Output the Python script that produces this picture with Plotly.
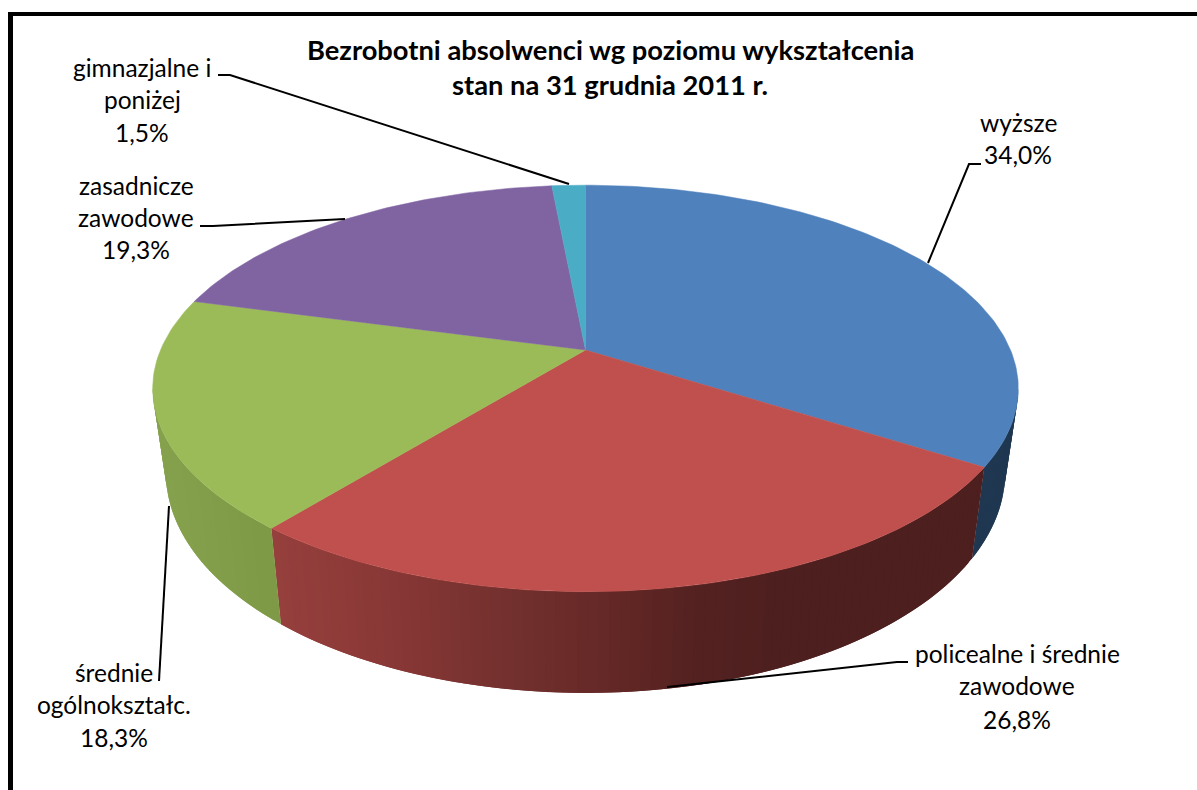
import numpy as np
import plotly.graph_objects as go

categories = ["wyższe", "policealne i średnie zawodowe", "średnie ogólnokształc.",
              "zasadnicze zawodowe", "gimnazjalne i poniżej"]
values = [34.0, 26.8, 18.3, 19.3, 1.5]
title_lines = ["Bezrobotni absolwenci wg poziomu wykształcenia", "stan na 31 grudnia 2011 r."]

top_colors = ["#4f81bd", "#c0504d", "#9bbb59", "#8064a2", "#4bacc6"]
# side-wall shading: (screen x, rgb) stops per slice
wall_stops = {
    0: [(970, (31, 55, 80)), (1020, (31, 55, 80))],
    1: [(273, (150, 64, 61)), (400, (135, 55, 53)), (500, (116, 49, 47)),
        (600, (102, 41, 39)), (700, (83, 33, 32)), (790, (77, 31, 31)), (990, (77, 31, 31))],
    2: [(153, (134, 162, 78)), (280, (125, 153, 70))],
}

# projection of the disc onto the screen (pixels)
CX, CY = 585.5, 350.0
K = 0.189
FX, GY = 425.0, 196.0
FX_B, GY_B, CY_B = 412.0, 212.0, 431.5
FONT = "Lato"
LABEL_SIZE = 24.5
TITLE_SIZE = 27.3


def top_pt(t):
    w = 1 + K * np.cos(t)
    return CX + FX * np.sin(t) / w, CY - GY * np.cos(t) / w


def bot_pt(t):
    w = 1 + K * np.cos(t)
    return CX + FX_B * np.sin(t) / w, CY_B - GY_B * np.cos(t) / w


def wall_color(i, x):
    st = wall_stops[i]
    xs = [s[0] for s in st]
    rgb = [np.interp(x, xs, [s[1][c] for s in st]) for c in range(3)]
    return "rgb(%d,%d,%d)" % tuple(int(round(c)) for c in rgb)


fig = go.Figure()
edges = np.concatenate([[0], np.cumsum(values)]) / sum(values) * 2 * np.pi
t_right = np.arccos(-K)
t_left = 2 * np.pi - t_right

# side walls: each strip overlaps the next, painted in order, so no seams show
for i in range(5):
    a, b = max(edges[i], t_right), min(edges[i + 1], t_left)
    if b <= a:
        continue
    n = max(2, int(np.degrees(b - a) / 1.2) + 1)
    ts = np.linspace(a, b, n + 1)
    for j in range(n):
        t0, t1 = ts[j], ts[min(j + 2, n)]
        mid = (top_pt(ts[j])[0] + top_pt(ts[j + 1])[0] + bot_pt(ts[j])[0] + bot_pt(ts[j + 1])[0]) / 4
        col = wall_color(i, mid)
        tm = np.linspace(t0, t1, 4)
        xt, yt = top_pt(tm)
        xb, yb = bot_pt(tm[::-1])
        fig.add_trace(go.Scatter(x=np.r_[xt, xb, xt[0]], y=np.r_[yt, yb, yt[0]], mode="lines",
                                 fill="toself", fillcolor=col, line=dict(color=col, width=0),
                                 hoverinfo="skip", showlegend=False))

# top face
for i in range(5):
    ts = np.linspace(edges[i], edges[i + 1], max(3, int(np.degrees(edges[i + 1] - edges[i]))) + 1)
    xs, ys = top_pt(ts)
    fig.add_trace(go.Scatter(x=np.r_[CX, xs, CX], y=np.r_[CY, ys, CY], mode="lines", fill="toself",
                             fillcolor=top_colors[i], line=dict(color=top_colors[i], width=0.5),
                             name=categories[i], hoverinfo="name", showlegend=False))


def pct(v):
    return f"{v:.1f}%".replace(".", ",")


annotations = []


def add_lines(lines, cx, ys, size=LABEL_SIZE, bold=False):
    for txt, y in zip(lines, ys):
        annotations.append(dict(x=cx, y=y, xref="x", yref="y", text=f"<b>{txt}</b>" if bold else txt,
                                showarrow=False, xanchor="center", yanchor="middle",
                                font=dict(family=FONT, size=size, color="#000000")))


add_lines(title_lines, 610, [49.5, 84.5], TITLE_SIZE, True)
add_lines(["wyższe", pct(values[0])], 1018, [122.5, 154.5])
add_lines(["policealne i średnie", "zawodowe", pct(values[1])], 1017, [653.5, 685.5, 719.5])
add_lines(["średnie", "ogólnokształc.", pct(values[2])], 114, [672.5, 704.5, 737.5])
add_lines(["zasadnicze", "zawodowe", pct(values[3])], 136, [185.5, 217.5, 249.5])
add_lines(["gimnazjalne i", "poniżej", pct(values[4])], 142, [67.5, 99.5, 132.5])

leaders = [
    "M218,75 L230,75 L569,184",
    "M200,226 L213,226 L345,219",
    "M159,681 L169,506",
    "M981,164 L969,164 L928,263",
    "M908,662 L897,662 L667,687",
]
shapes = [dict(type="path", path=p, xref="x", yref="y", line=dict(color="#000000", width=2),
               fillcolor="rgba(0,0,0,0)") for p in leaders]
shapes += [
    dict(type="rect", x0=8, x1=1197, y0=12, y1=16, xref="x", yref="y", fillcolor="#000000", line_width=0),
    dict(type="rect", x0=8, x1=13, y0=12, y1=790, xref="x", yref="y", fillcolor="#000000", line_width=0),
]

fig.update_layout(
    width=1197, height=790, margin=dict(l=0, r=0, t=0, b=0), autosize=False,
    paper_bgcolor="#ffffff", plot_bgcolor="#ffffff", showlegend=False,
    xaxis=dict(range=[0, 1197], visible=False, fixedrange=True),
    yaxis=dict(range=[790, 0], visible=False, fixedrange=True),
    annotations=annotations, shapes=shapes,
)
fig.write_html("out.html", config={"displayModeBar": False},
               post_script="document.body.style.margin='0';document.body.style.overflow='hidden';")
